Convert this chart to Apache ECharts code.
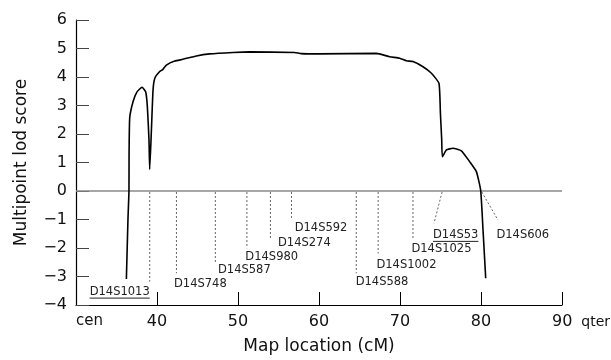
<!DOCTYPE html>
<html>
<head>
<meta charset="utf-8">
<script src="https://cdn.jsdelivr.net/npm/echarts@6/dist/echarts.min.js"></script>
<style>html,body{margin:0;padding:0;background:#fff}#c{width:611px;height:360px}</style>
</head>
<body>
<div id="c"></div>
<script>
// Multipoint lod score curve (cM, lod)
var curveCM  = [36.22, 36.42, 36.54, 36.55, 36.63, 37.04, 37.53, 38.15, 38.6, 38.81, 39.01, 39.1, 39.31, 39.51, 39.72, 40.33, 40.74, 41.16, 42.19, 43.2, 44.86, 46.5, 49.38, 51.44, 57.0, 57.8, 60.0, 67.09, 68.73, 69.96, 70.79, 71.6, 72.84, 73.88, 74.81, 74.99, 75.15, 75.23, 75.73, 76.54, 77.58, 78.6, 79.43, 79.96, 80.25, 80.58];
var curveLod = [-3.09, -0.95, 0, 1.2, 2.56, 3.13, 3.48, 3.64, 3.48, 2.96, 1.79, 0.76, 2.14, 3.54, 3.95, 4.19, 4.27, 4.42, 4.56, 4.62, 4.74, 4.81, 4.86, 4.88, 4.86, 4.82, 4.81, 4.83, 4.71, 4.66, 4.57, 4.54, 4.36, 4.13, 3.78, 2.72, 1.79, 1.2, 1.44, 1.5, 1.41, 1.03, 0.68, 0.02, -1.37, -3.06];

// Markers
var markerNames = ['D14S1013','D14S748','D14S587','D14S980','D14S274','D14S592','D14S588','D14S1002','D14S1025','D14S53','D14S606'];
var markerCM    = [39.1, 42.4, 47.2, 51.1, 54.0, 56.6, 64.6, 67.3, 71.6, 75.2, 80.1];
var markerUnderlined = [true, false, false, false, false, false, false, false, false, true, false];

// Marker leader/label layout (in axis units)
var leaderEndCM  = [39.1, 42.4, 47.2, 51.1, 54.0, 56.6, 64.6, 67.3, 71.6, 74.2, 82.1];
var leaderEndLod = [-3.18, -2.89, -2.54, -2.01, -1.66, -0.96, -2.89, -2.19, -1.66, -1.13, -1.02];
var labelCM      = [39.1, 42.1, 47.53, 50.91, 54.94, 57.0, 64.53, 67.09, 71.41, 74.07, 81.9];
var labelLod     = [-3.53, -3.26, -2.77, -2.31, -1.81, -1.31, -3.18, -2.6, -2.05, -1.54, -1.54];
var labelAlign   = ['right','left','left','left','left','left','left','left','left','left','left'];

// Axis ticks
var xTicks = [30, 40, 50, 60, 70, 80, 90];
var yTicks = [-4, -3, -2, -1, 0, 1, 2, 3, 4, 5, 6];

var FONT = '"DejaVu Sans", sans-serif';
var labelFont = '11.5px "DejaVu Sans", sans-serif';
var mctx = document.createElement('canvas').getContext('2d');
mctx.font = labelFont;

var chart = echarts.init(document.getElementById('c'), null, {renderer: 'canvas'});

var curveData = curveCM.map(function (x, i) { return [x, curveLod[i]]; });
var markerData = markerNames.map(function (n, i) { return [markerCM[i], 0, i]; });

chart.setOption({
  animation: false,
  backgroundColor: '#fff',
  grid: {left: 76, right: 49, top: 20, bottom: 55, containLabel: false, outerBoundsMode: 'none'},
  xAxis: {
    type: 'value', min: xTicks[0], max: xTicks[xTicks.length - 1], interval: 10,
    name: 'Map location (cM)', nameLocation: 'middle', nameGap: 33,
    nameTextStyle: {fontFamily: FONT, fontSize: 17, color: '#111'},
    axisLine: {show: true, onZero: false, lineStyle: {color: '#000', width: 1.2}},
    axisTick: {show: true, inside: true, length: 13, lineStyle: {color: '#000', width: 1}},
    splitLine: {show: false},
    axisLabel: {
      margin: 9, fontFamily: FONT, fontSize: 16, color: '#111',
      formatter: function (v) {
        if (v === 30) return '{c|cen}';
        if (v === 90) return '{n|90}{q|qter}';
        return String(v);
      },
      rich: {
        c: {fontFamily: FONT, fontSize: 15, color: '#111', padding: [0, 0, 0, 27]},
        n: {fontFamily: FONT, fontSize: 16, color: '#111', padding: [0, 0, 0, 38]},
        q: {fontFamily: FONT, fontSize: 14, color: '#111', padding: [0, 0, 0, 9]}
      }
    }
  },
  yAxis: {
    type: 'value', min: yTicks[0], max: yTicks[yTicks.length - 1], interval: 1,
    name: 'Multipoint lod score', nameLocation: 'middle', nameGap: 46,
    nameTextStyle: {fontFamily: FONT, fontSize: 17, color: '#111'},
    axisLine: {show: true, onZero: false, lineStyle: {color: '#000', width: 1.2}},
    axisTick: {show: true, inside: true, length: 13, lineStyle: {color: '#444', width: 1}},
    splitLine: {show: false},
    axisLabel: {
      margin: 9, fontFamily: FONT, fontSize: 16, color: '#111',
      formatter: function (v) { return v < 0 ? '\u2212' + Math.abs(v) : String(v); }
    }
  },
  series: [
    {
      type: 'line', data: curveData, showSymbol: false, smooth: 0.15,
      lineStyle: {color: '#000', width: 1.6}, z: 5,
      markLine: {
        silent: true, symbol: ['none', 'none'], label: {show: false},
        lineStyle: {color: '#888', width: 1.6, type: 'solid'},
        data: [{yAxis: 0}]
      }
    },
    {
      type: 'custom', coordinateSystem: 'cartesian2d', clip: false, silent: true, z: 3,
      data: markerData,
      renderItem: function (params, api) {
        var i = api.value(2);
        var top = api.coord([markerCM[i], 0]);
        var bot = api.coord([leaderEndCM[i], leaderEndLod[i]]);
        var lp = api.coord([labelCM[i], labelLod[i]]);
        var children = [{
          type: 'line',
          shape: {x1: top[0], y1: top[1] + 1, x2: bot[0], y2: bot[1]},
          style: {stroke: '#666', lineWidth: 1, lineDash: [2, 2]}
        }, {
          type: 'text',
          style: {
            text: markerNames[i], x: lp[0], y: lp[1],
            font: labelFont, fill: '#222',
            align: labelAlign[i], verticalAlign: 'middle'
          }
        }];
        if (markerUnderlined[i]) {
          var w = mctx.measureText(markerNames[i]).width;
          var x0 = labelAlign[i] === 'right' ? lp[0] - w : lp[0];
          children.push({
            type: 'line',
            shape: {x1: x0, y1: lp[1] + 6.5, x2: x0 + w, y2: lp[1] + 6.5},
            style: {stroke: '#222', lineWidth: 1}
          });
        }
        return {type: 'group', children: children};
      }
    }
  ]
});
</script>
</body>
</html>
